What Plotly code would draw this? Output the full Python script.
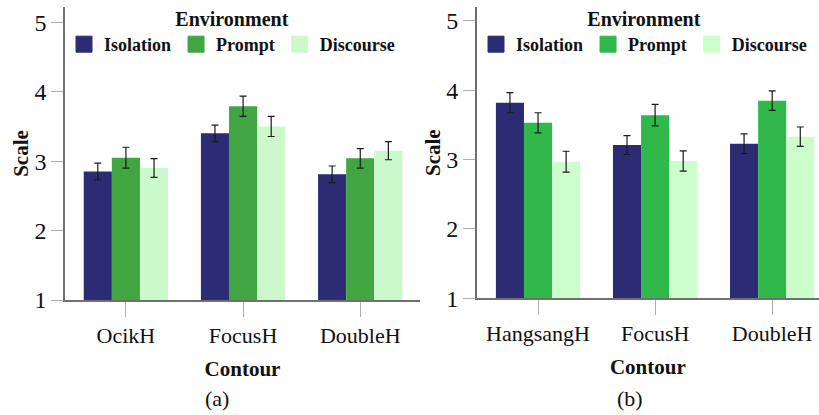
import plotly.graph_objects as go

# ---- data ----
env_names = ["Isolation", "Prompt", "Discourse"]

cats_a = ["OcikH", "FocusH", "DoubleH"]
iso_a = [2.85, 3.40, 2.81]
iso_a_err = [0.12, 0.12, 0.12]
prompt_a = [3.05, 3.79, 3.04]
prompt_a_err = [0.15, 0.145, 0.14]
disc_a = [2.90, 3.50, 3.15]
disc_a_err = [0.135, 0.145, 0.13]

cats_b = ["HangsangH", "FocusH", "DoubleH"]
iso_b = [3.82, 3.21, 3.23]
iso_b_err = [0.145, 0.135, 0.14]
prompt_b = [3.53, 3.64, 3.85]
prompt_b_err = [0.145, 0.155, 0.14]
disc_b = [2.97, 2.98, 3.33]
disc_b_err = [0.15, 0.145, 0.14]

y_ticks = [1, 2, 3, 4, 5]

colors_a = ["#2b2c73", "#41a641", "#ccf9cc"]
colors_b = ["#2b2c73", "#30b84a", "#ccfdcc"]

W, H = 819, 415
SERIF = "Liberation Serif, Times New Roman, serif"

fig = go.Figure()

panels = [
    ("x", "y", "legend", cats_a, [iso_a, prompt_a, disc_a],
     [iso_a_err, prompt_a_err, disc_a_err], colors_a),
    ("x2", "y2", "legend2", cats_b, [iso_b, prompt_b, disc_b],
     [iso_b_err, prompt_b_err, disc_b_err], colors_b),
]

for xa, ya, lg, cats, vals, errs, cols in panels:
    for name, v, e, c in zip(env_names, vals, errs, cols):
        fig.add_trace(go.Bar(
            x=cats, y=v, name=name, xaxis=xa, yaxis=ya,
            offsetgroup=name, showlegend=False,
            marker=dict(color=c, line=dict(width=0)),
            error_y=dict(type="data", array=e, visible=True,
                         color="#1a1a1a", thickness=1.2, width=3.5),
        ))
    for name, c in zip(env_names, cols):
        fig.add_trace(go.Scatter(
            x=[None], y=[None], mode="markers", name=name,
            xaxis=xa, yaxis=ya, legend=lg, showlegend=True,
            marker=dict(symbol="square", size=16, color=c,
                        line=dict(width=1, color=c)),
        ))

axis_common = dict(
    showline=True, linecolor="#707070", linewidth=1.5,
    ticks="outside", tickcolor="#b0b0b0", tickwidth=1,
    showgrid=False, zeroline=False, automargin=False,
    tickfont=dict(family=SERIF, size=22, color="#111"),
)

legend_title = "<b>Environment</b>"

fig.update_layout(
    width=W, height=H,
    margin=dict(l=0, r=0, t=0, b=0, autoexpand=False),
    paper_bgcolor="white", plot_bgcolor="white",
    barmode="group", bargap=0.28, bargroupgap=0,
    font=dict(family=SERIF, color="#111"),
    xaxis=dict(axis_common, domain=[65 / W, 420 / W], anchor="y",
               range=[-0.52, 2.51], ticklen=15,
               title=dict(text="<b>Contour</b>", standoff=14,
                          font=dict(family=SERIF, size=21))),
    yaxis=dict(axis_common, domain=[1 - 300 / H, 1 - 7 / H], anchor="x",
               range=[1, 5.22], tickvals=y_ticks, ticklen=12,
               tickfont=dict(family=SERIF, size=24, color="#111"),
               title=dict(text="<b>Scale</b>", standoff=0,
                          font=dict(family=SERIF, size=21))),
    xaxis2=dict(axis_common, domain=[476.7 / W, 1.0], anchor="y2",
                range=[-0.524, 2.40], ticklen=15,
                title=dict(text="<b>Contour</b>", standoff=14,
                           font=dict(family=SERIF, size=21))),
    yaxis2=dict(axis_common, domain=[1 - 298.3 / H, 1 - 7 / H], anchor="x2",
                range=[1, 5.2], tickvals=y_ticks, ticklen=12,
                tickfont=dict(family=SERIF, size=24, color="#111"),
                title=dict(text="<b>Scale</b>", standoff=0,
                           font=dict(family=SERIF, size=21))),
    legend=dict(orientation="h", x=64 / W, y=1.0, xanchor="left", yanchor="top",
                bgcolor="rgba(0,0,0,0)", itemsizing="trace",
                title=dict(text=legend_title, side="top center",
                           font=dict(family=SERIF, size=20)),
                font=dict(family=SERIF, size=18, weight="bold")),
    legend2=dict(orientation="h", x=476 / W, y=1.0, xanchor="left", yanchor="top",
                 bgcolor="rgba(0,0,0,0)", itemsizing="trace",
                 title=dict(text=legend_title, side="top center",
                            font=dict(family=SERIF, size=20)),
                 font=dict(family=SERIF, size=18, weight="bold")),
    annotations=[
        dict(text="(a)", x=217 / W, y=1 - 398 / H, xref="paper", yref="paper",
             xanchor="center", yanchor="middle", showarrow=False,
             font=dict(family=SERIF, size=22, color="#111")),
        dict(text="(b)", x=630 / W, y=1 - 398 / H, xref="paper", yref="paper",
             xanchor="center", yanchor="middle", showarrow=False,
             font=dict(family=SERIF, size=22, color="#111")),
    ],
)

fig.write_html("out.html",
               config={"displayModeBar": False},
               post_script="document.body.style.margin='0';"
                           "document.body.style.padding='0';")
